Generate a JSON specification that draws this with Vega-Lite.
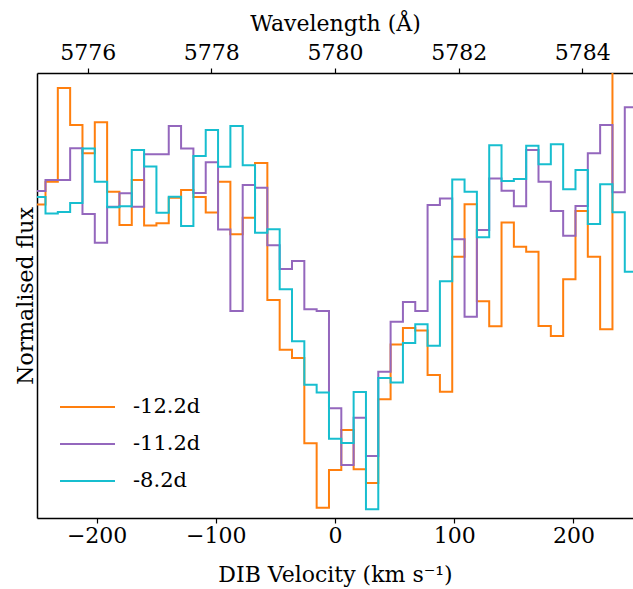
{
  "$schema": "https://vega.github.io/schema/vega-lite/v6.json",
  "autosize": {"type": "none"},
  "padding": {"left": 37, "top": 73, "right": 0, "bottom": 71},
  "width": 596,
  "height": 445,
  "background": "white",
  "config": {
    "view": {"stroke": null},
    "font": "DejaVu Serif",
    "legend": {"labelFont": "DejaVu Serif"},
    "axis": {"grid": false, "labelFont": "DejaVu Serif", "titleFont": "DejaVu Serif", "titleFontWeight": "normal", "labelColor": "black", "titleColor": "black", "domainColor": "black", "tickColor": "black", "domainWidth": 1.5, "tickWidth": 1.2, "labelFontSize": 22, "titleFontSize": 22, "tickSize": 5}
  },
  "datasets": {
    "spec": [
      {"v": -258.38, "s": "-12.2d", "f": 0.98685}, {"v": -248.04, "s": "-12.2d", "f": 0.98685}, {"v": -237.70, "s": "-12.2d", "f": 0.98913}, {"v": -227.36, "s": "-12.2d", "f": 0.9985}, {"v": -217.02, "s": "-12.2d", "f": 0.9948}, {"v": -206.68, "s": "-12.2d", "f": 0.99197}, {"v": -196.34, "s": "-12.2d", "f": 0.99507}, {"v": -186.00, "s": "-12.2d", "f": 0.98813}, {"v": -175.66, "s": "-12.2d", "f": 0.9848}, {"v": -165.32, "s": "-12.2d", "f": 0.9893}, {"v": -154.98, "s": "-12.2d", "f": 0.98475}, {"v": -144.64, "s": "-12.2d", "f": 0.98497}, {"v": -134.30, "s": "-12.2d", "f": 0.98753}, {"v": -123.96, "s": "-12.2d", "f": 0.9883}, {"v": -113.62, "s": "-12.2d", "f": 0.9876}, {"v": -103.28, "s": "-12.2d", "f": 0.98605}, {"v": -92.94, "s": "-12.2d", "f": 0.98913}, {"v": -82.60, "s": "-12.2d", "f": 0.98387}, {"v": -72.26, "s": "-12.2d", "f": 0.98553}, {"v": -61.92, "s": "-12.2d", "f": 0.991}, {"v": -51.58, "s": "-12.2d", "f": 0.9773}, {"v": -41.24, "s": "-12.2d", "f": 0.97233}, {"v": -30.90, "s": "-12.2d", "f": 0.9715}, {"v": -20.56, "s": "-12.2d", "f": 0.96297}, {"v": -10.22, "s": "-12.2d", "f": 0.95653}, {"v": 0.12, "s": "-12.2d", "f": 0.9603}, {"v": 10.46, "s": "-12.2d", "f": 0.9643}, {"v": 20.80, "s": "-12.2d", "f": 0.96037}, {"v": 31.14, "s": "-12.2d", "f": 0.959}, {"v": 41.48, "s": "-12.2d", "f": 0.96737}, {"v": 51.82, "s": "-12.2d", "f": 0.97284}, {"v": 62.16, "s": "-12.2d", "f": 0.9745}, {"v": 72.50, "s": "-12.2d", "f": 0.97426}, {"v": 82.84, "s": "-12.2d", "f": 0.9698}, {"v": 93.18, "s": "-12.2d", "f": 0.96813}, {"v": 103.52, "s": "-12.2d", "f": 0.98163}, {"v": 113.86, "s": "-12.2d", "f": 0.98687}, {"v": 124.20, "s": "-12.2d", "f": 0.97717}, {"v": 134.54, "s": "-12.2d", "f": 0.97467}, {"v": 144.88, "s": "-12.2d", "f": 0.98505}, {"v": 155.22, "s": "-12.2d", "f": 0.98263}, {"v": 165.56, "s": "-12.2d", "f": 0.98213}, {"v": 175.90, "s": "-12.2d", "f": 0.9747}, {"v": 186.24, "s": "-12.2d", "f": 0.9737}, {"v": 196.58, "s": "-12.2d", "f": 0.97937}, {"v": 206.92, "s": "-12.2d", "f": 0.9862}, {"v": 217.26, "s": "-12.2d", "f": 0.98163}, {"v": 227.60, "s": "-12.2d", "f": 0.97437}, {"v": 237.94, "s": "-12.2d", "f": 1.0033}, {"v": 248.28, "s": "-12.2d", "f": 1.0033}, {"v": 258.62, "s": "-12.2d", "f": 1.0033},

      {"v": -258.38, "s": "-11.2d", "f": 0.9882}, {"v": -248.04, "s": "-11.2d", "f": 0.9882}, {"v": -237.70, "s": "-11.2d", "f": 0.9893}, {"v": -227.36, "s": "-11.2d", "f": 0.9893}, {"v": -217.02, "s": "-11.2d", "f": 0.99247}, {"v": -206.68, "s": "-11.2d", "f": 0.9859}, {"v": -196.34, "s": "-11.2d", "f": 0.98303}, {"v": -186.00, "s": "-11.2d", "f": 0.98663}, {"v": -175.66, "s": "-11.2d", "f": 0.98797}, {"v": -165.32, "s": "-11.2d", "f": 0.98663}, {"v": -154.98, "s": "-11.2d", "f": 0.99187}, {"v": -144.64, "s": "-11.2d", "f": 0.99187}, {"v": -134.30, "s": "-11.2d", "f": 0.9947}, {"v": -123.96, "s": "-11.2d", "f": 0.99245}, {"v": -113.62, "s": "-11.2d", "f": 0.988}, {"v": -103.28, "s": "-11.2d", "f": 0.99107}, {"v": -92.94, "s": "-11.2d", "f": 0.98435}, {"v": -82.60, "s": "-11.2d", "f": 0.9762}, {"v": -72.26, "s": "-11.2d", "f": 0.9888}, {"v": -61.92, "s": "-11.2d", "f": 0.98853}, {"v": -51.58, "s": "-11.2d", "f": 0.98278}, {"v": -41.24, "s": "-11.2d", "f": 0.9804}, {"v": -30.90, "s": "-11.2d", "f": 0.9812}, {"v": -20.56, "s": "-11.2d", "f": 0.97638}, {"v": -10.22, "s": "-11.2d", "f": 0.97621}, {"v": 0.12, "s": "-11.2d", "f": 0.96647}, {"v": 10.46, "s": "-11.2d", "f": 0.9608}, {"v": 20.80, "s": "-11.2d", "f": 0.96553}, {"v": 31.14, "s": "-11.2d", "f": 0.9617}, {"v": 41.48, "s": "-11.2d", "f": 0.97013}, {"v": 51.82, "s": "-11.2d", "f": 0.97513}, {"v": 62.16, "s": "-11.2d", "f": 0.9771}, {"v": 72.50, "s": "-11.2d", "f": 0.9762}, {"v": 82.84, "s": "-11.2d", "f": 0.9868}, {"v": 93.18, "s": "-11.2d", "f": 0.98744}, {"v": 103.52, "s": "-11.2d", "f": 0.98337}, {"v": 113.86, "s": "-11.2d", "f": 0.97563}, {"v": 124.20, "s": "-11.2d", "f": 0.9843}, {"v": 134.54, "s": "-11.2d", "f": 0.98944}, {"v": 144.88, "s": "-11.2d", "f": 0.98823}, {"v": 155.22, "s": "-11.2d", "f": 0.98667}, {"v": 165.56, "s": "-11.2d", "f": 0.9923}, {"v": 175.90, "s": "-11.2d", "f": 0.98913}, {"v": 186.24, "s": "-11.2d", "f": 0.9862}, {"v": 196.58, "s": "-11.2d", "f": 0.98373}, {"v": 206.92, "s": "-11.2d", "f": 0.9867}, {"v": 217.26, "s": "-11.2d", "f": 0.99197}, {"v": 227.60, "s": "-11.2d", "f": 0.9948}, {"v": 237.94, "s": "-11.2d", "f": 0.98807}, {"v": 248.28, "s": "-11.2d", "f": 0.99657}, {"v": 258.62, "s": "-11.2d", "f": 0.99657},

      {"v": -258.38, "s": "-8.2d", "f": 0.9876}, {"v": -248.04, "s": "-8.2d", "f": 0.9876}, {"v": -237.70, "s": "-8.2d", "f": 0.98595}, {"v": -227.36, "s": "-8.2d", "f": 0.9861}, {"v": -217.02, "s": "-8.2d", "f": 0.987}, {"v": -206.68, "s": "-8.2d", "f": 0.99245}, {"v": -196.34, "s": "-8.2d", "f": 0.98913}, {"v": -186.00, "s": "-8.2d", "f": 0.98657}, {"v": -175.66, "s": "-8.2d", "f": 0.98667}, {"v": -165.32, "s": "-8.2d", "f": 0.9923}, {"v": -154.98, "s": "-8.2d", "f": 0.99065}, {"v": -144.64, "s": "-8.2d", "f": 0.98603}, {"v": -134.30, "s": "-8.2d", "f": 0.98763}, {"v": -123.96, "s": "-8.2d", "f": 0.9847}, {"v": -113.62, "s": "-8.2d", "f": 0.9917}, {"v": -103.28, "s": "-8.2d", "f": 0.9943}, {"v": -92.94, "s": "-8.2d", "f": 0.99063}, {"v": -82.60, "s": "-8.2d", "f": 0.9947}, {"v": -72.26, "s": "-8.2d", "f": 0.99077}, {"v": -61.92, "s": "-8.2d", "f": 0.98403}, {"v": -51.58, "s": "-8.2d", "f": 0.98438}, {"v": -41.24, "s": "-8.2d", "f": 0.97837}, {"v": -30.90, "s": "-8.2d", "f": 0.97318}, {"v": -20.56, "s": "-8.2d", "f": 0.96883}, {"v": -10.22, "s": "-8.2d", "f": 0.96805}, {"v": 0.12, "s": "-8.2d", "f": 0.96342}, {"v": 10.46, "s": "-8.2d", "f": 0.963}, {"v": 20.80, "s": "-8.2d", "f": 0.9681}, {"v": 31.14, "s": "-8.2d", "f": 0.95637}, {"v": 41.48, "s": "-8.2d", "f": 0.9695}, {"v": 51.82, "s": "-8.2d", "f": 0.96905}, {"v": 62.16, "s": "-8.2d", "f": 0.973}, {"v": 72.50, "s": "-8.2d", "f": 0.97487}, {"v": 82.84, "s": "-8.2d", "f": 0.97272}, {"v": 93.18, "s": "-8.2d", "f": 0.97917}, {"v": 103.52, "s": "-8.2d", "f": 0.98934}, {"v": 113.86, "s": "-8.2d", "f": 0.98813}, {"v": 124.20, "s": "-8.2d", "f": 0.98357}, {"v": 134.54, "s": "-8.2d", "f": 0.99277}, {"v": 144.88, "s": "-8.2d", "f": 0.9892}, {"v": 155.22, "s": "-8.2d", "f": 0.98939}, {"v": 165.56, "s": "-8.2d", "f": 0.99273}, {"v": 175.90, "s": "-8.2d", "f": 0.99087}, {"v": 186.24, "s": "-8.2d", "f": 0.99287}, {"v": 196.58, "s": "-8.2d", "f": 0.98837}, {"v": 206.92, "s": "-8.2d", "f": 0.9903}, {"v": 217.26, "s": "-8.2d", "f": 0.9849}, {"v": 227.60, "s": "-8.2d", "f": 0.98887}, {"v": 237.94, "s": "-8.2d", "f": 0.98607}, {"v": 248.28, "s": "-8.2d", "f": 0.98013}, {"v": 258.62, "s": "-8.2d", "f": 0.98013}
    ],
    "wave": [{"w": 5775.18}, {"w": 5784.82}]
  },
  "layer": [
    {
      "data": {"name": "spec"},
      "mark": {"type": "line", "interpolate": "step", "clip": true, "strokeWidth": 2},
      "encoding": {
        "x": {"field": "v", "type": "quantitative", "scale": {"domain": [-250, 250], "nice": false, "zero": false},
              "axis": {"orient": "bottom", "values": [-200, -100, 0, 100, 200], "title": "DIB Velocity (km s⁻¹)", "labelFont": "DejaVu Serif", "labelPadding": 2, "titlePadding": 18}},
        "y": {"field": "f", "type": "quantitative", "scale": {"domain": [0.9555, 1.0], "nice": false, "zero": false},
              "axis": {"labels": false, "ticks": false, "title": "Normalised flux", "titlePadding": 0}},
        "color": {"field": "s", "type": "nominal",
                  "scale": {"domain": ["-12.2d", "-11.2d", "-8.2d"], "range": ["#ff7f0e", "#9467bd", "#17becf"]},
                  "legend": {"title": null, "orient": "none", "legendX": 22, "legendY": 319, "symbolType": "stroke", "symbolSize": 3025, "symbolStrokeWidth": 2, "labelFont": "DejaVu Serif", "labelFontSize": 21, "labelColor": "black", "labelOffset": 17, "clipHeight": 30, "rowPadding": 7}}
      }
    },
    {
      "data": {"name": "wave"},
      "mark": {"type": "point", "opacity": 0},
      "encoding": {
        "x": {"field": "w", "type": "quantitative", "scale": {"domain": [5775.18, 5784.82], "nice": false, "zero": false},
              "axis": {"orient": "top", "values": [5776, 5778, 5780, 5782, 5784], "format": "d", "labelFont": "DejaVu Serif", "title": "Wavelength (Å)", "labelPadding": 4, "titlePadding": 6}}
      }
    }
  ],
  "resolve": {"scale": {"x": "independent"}}
}
